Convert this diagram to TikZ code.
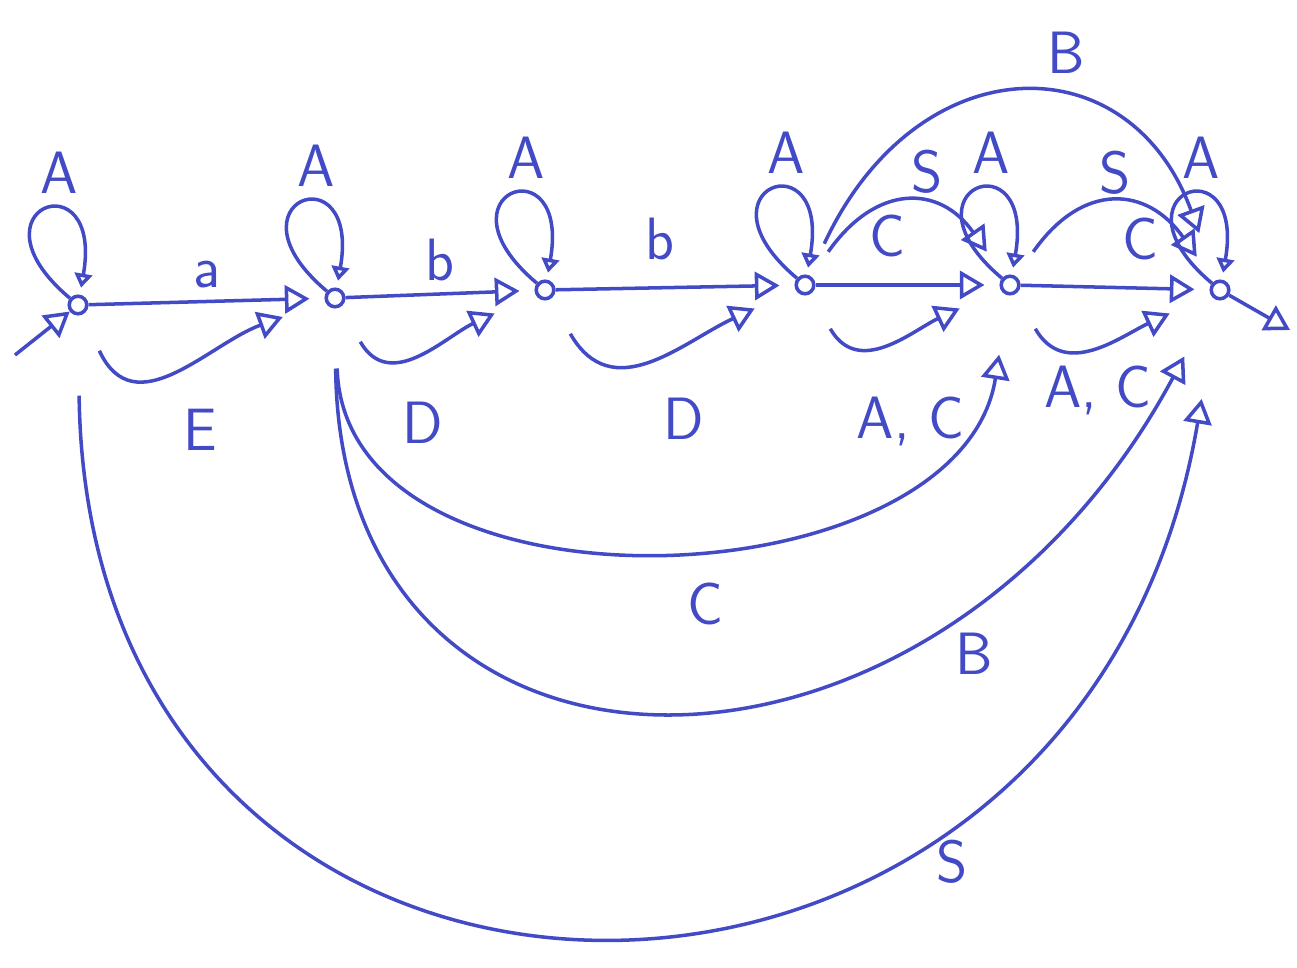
\documentclass[tikz,border=0pt]{standalone}
\usepackage{tikz}
\usetikzlibrary{arrows.meta,positioning}
\definecolor{inkblue}{RGB}{66,74,198}

\begin{document}
\begin{tikzpicture}[x=1cm,y=1cm,font=\fontsize{17}{20}\selectfont\sffamily,
  stnode/.style={circle,draw=inkblue,line width=1pt,inner sep=0pt,minimum size=5pt},
  trans/.style={inkblue,line width=1pt,-{Triangle[open,length=7pt,width=8pt]}},
  lowerarc/.style={trans,shorten <=0.4cm,shorten >=0.45cm},
  upperarc/.style={trans,shorten <=0.3cm,shorten >=0.3cm},
  selfloop/.style={loop,out=140,in=80,min distance=1.4cm}]
\useasboundingbox (0,0) rectangle (12.97,9.67);
\foreach \n/\x/\y in {q0/0.78/6.62,q1/3.35/6.69,q2/5.45/6.77,q3/8.05/6.82,q4/10.10/6.82,q5/12.20/6.77}
  \node[stnode] (\n) at (\x,\y) {};
\coordinate (init) at (0.15,6.12);
\coordinate (fin) at (12.9,6.37);
\foreach \n in {q0,q1,q2,q3,q4,q5}
  \draw[inkblue,line width=1pt,-{Triangle[open,length=4pt,width=5pt]},shorten >=2pt] (\n) to[selfloop] node[above=1pt,xshift=0.15cm] (A\n) {A} (\n);
\draw[trans] (init) -- (q0);
\draw[trans] (q5) -- (fin);
\draw[trans,shorten >=0.15cm] (q0) -- node[above] (la) {a} (q1);
\draw[trans,shorten >=0.15cm] (q1) -- node[above] (lb1) {b} (q2);
\draw[trans,shorten >=0.15cm] (q2) -- node[above=4pt,xshift=-0.15cm] (lb2) {b} (q3);
\draw[trans,shorten >=0.15cm] (q3) -- node[above=4pt,xshift=-0.2cm] (lc1) {C} (q4);
\draw[trans,shorten >=0.15cm] (q4) -- node[above=4pt,xshift=0.25cm] (lc2) {C} (q5);
\draw[lowerarc] (q0) to[out=-65,in=-160,looseness=1.3] node[below=0.3cm,xshift=0.2cm] (lE) {E} (q1);
\draw[lowerarc] (q1) to[out=-60,in=-155,looseness=1.3] node[below=0.4cm] (lD1) {D} (q2);
\draw[lowerarc] (q2) to[out=-60,in=-155,looseness=1.3] node[below=0.3cm,xshift=0.3cm] (lD2) {D} (q3);
\draw[lowerarc] (q3) to[out=-60,in=-155,looseness=1.3] node[below=0.45cm,xshift=0.2cm] (lAC1) {A, C} (q4);
\draw[lowerarc] (q4) to[out=-60,in=-155,looseness=1.3] node[below=0.1cm] (lAC2) {A, C} (q5);
\draw[upperarc] (q3) to[out=55,in=125,looseness=1.5] node[above,xshift=0.2cm] (lS1) {S} (q4);
\draw[upperarc] (q4) to[out=55,in=125,looseness=1.5] node[above] (lS2) {S} (q5);
\draw[trans,shorten <=0.35cm,shorten >=0.5cm] (q3) to[out=65,in=110,looseness=1.6] node[above=6pt,pos=0.6] (lB1) {B} (q5);
\draw[trans,shorten <=0.6cm,shorten >=0.6cm] (q1) .. controls +(0.1,-3.3) and +(-0.5,-3.2) .. node[below=0.35cm,pos=0.55] (lC) {C} (q4);
\draw[trans,shorten <=0.6cm,shorten >=0.65cm] (q1) .. controls +(0.05,-5.3) and +(-2.9,-5.4) .. node[below right=0.1cm,pos=0.73] (lB2) {B} (q5);
\draw[trans,shorten <=0.8cm,shorten >=1.0cm] (q0) .. controls +(0.1,-8.1) and +(-1.4,-8.3) .. node[below right=0.15cm,pos=0.7] (lS3) {S} (q5);
\end{tikzpicture}
\end{document}
